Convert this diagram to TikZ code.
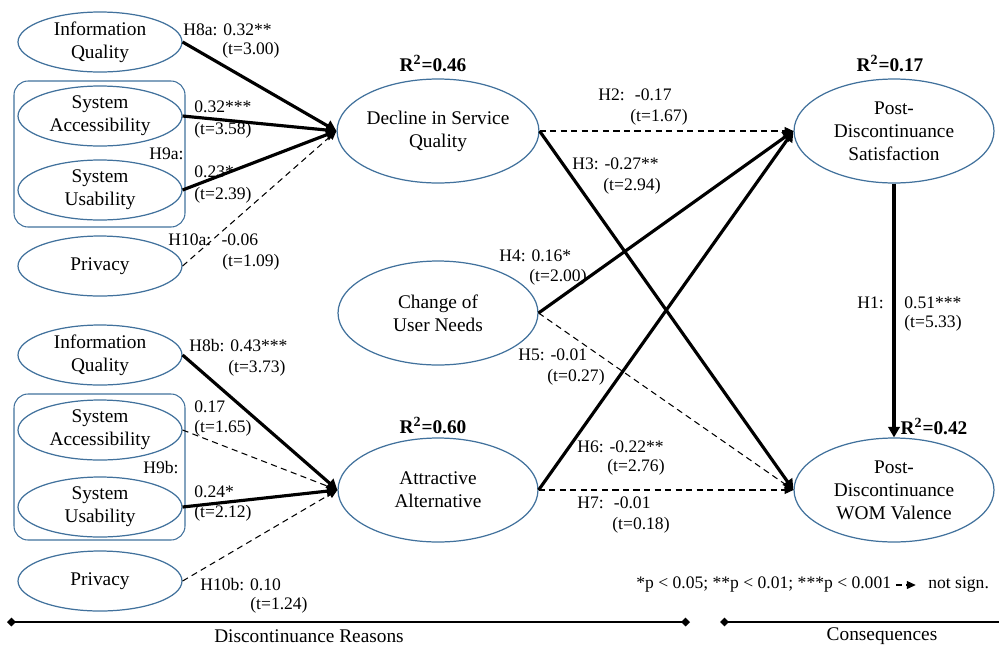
\documentclass[tikz,border=0pt]{standalone}
\usepackage{fontspec}
\setmainfont{Liberation Serif}
\usetikzlibrary{arrows.meta,shapes.geometric}

\definecolor{ellblue}{RGB}{65,113,156}
\tikzset{
	construct/.style={ellipse, draw=ellblue, line width=0.7pt, inner sep=0pt, minimum width=3.28cm, minimum height=1.2cm, align=center, font=\fontsize{11}{13}\selectfont},
	bigconstruct/.style={construct, minimum width=4cm, minimum height=2.08cm},
	sig/.style={line width=1.8pt, -{Triangle[length=6pt,width=6.5pt]}},
	nsig/.style={line width=0.6pt, dash pattern=on 3.5pt off 2.5pt, -{Triangle[length=5pt,width=4.5pt]}},
	lbl/.style={anchor=west, inner sep=0pt, font=\fontsize{10}{12}\selectfont},
	rsq/.style={inner sep=0pt, font=\fontsize{11}{13}\selectfont\bfseries},
	group/.style={draw=ellblue, line width=0.6pt, rounded corners=8pt}
}

\begin{document}
\begin{tikzpicture}[x=0.02cm, y=-0.02cm]
	\useasboundingbox (0,0) rectangle (999,646);
	
	%groups
	\draw[group] (14,81) rectangle (185,227);
	\draw[group] (14,394) rectangle (185,540);
	
	%reasons
	\node[construct] (iqa) at (100,42) {Information\\Quality};
	\node[construct] (saa) at (100,116) {System\\Accessibility};
	\node[construct] (sua) at (100,190) {System\\Usability};
	\node[construct] (pra) at (100,266) {Privacy};
	\node[construct] (iqb) at (100,355) {Information\\Quality};
	\node[construct] (sab) at (100,430) {System\\Accessibility};
	\node[construct] (sub) at (100,507) {System\\Usability};
	\node[construct] (prb) at (100,581) {Privacy};
	
	%constructs
	\node[bigconstruct] (dsq) at (438,131) {Decline in Service\\Quality};
	\node[bigconstruct] (cun) at (438,313) {Change of\\User Needs};
	\node[bigconstruct] (aal) at (438,490) {Attractive\\Alternative};
	\node[bigconstruct] (pds) at (894,131) {Post-\\Discontinuance\\Satisfaction};
	\node[bigconstruct] (wom) at (894,490) {Post-\\Discontinuance\\WOM Valence};
	
	%R squared
	\node[rsq] (r46) at (433,63) {R\textsuperscript{\footnotesize 2}=0.46};
	\node[rsq] (r60) at (433,425) {R\textsuperscript{\footnotesize 2}=0.60};
	\node[rsq] (r17) at (890,63) {R\textsuperscript{\footnotesize 2}=0.17};
	\node[rsq] (r42) at (934,426) {R\textsuperscript{\footnotesize 2}=0.42};
	
	%paths
	\draw[sig] (iqa.east) -- (dsq.west);
	\draw[sig] (saa.east) -- (dsq.west);
	\draw[sig] (sua.east) -- (dsq.west);
	\draw[nsig] (pra.east) -- (dsq.west);
	\draw[sig] (iqb.east) -- (aal.west);
	\draw[nsig] (sab.east) -- (aal.west);
	\draw[sig] (sub.east) -- (aal.west);
	\draw[nsig] (prb.east) -- (aal.west);
	\draw[nsig] (dsq.east) -- (pds.west);
	\draw[sig] (dsq.east) -- (wom.west);
	\draw[sig] (cun.east) -- (pds.west);
	\draw[nsig] (cun.east) -- (wom.west);
	\draw[sig] (aal.east) -- (pds.west);
	\draw[nsig] (aal.east) -- (wom.west);
	\draw[sig] (pds.south) -- (wom.north);
	
	%coefficients
	\node[lbl] (h8a) at (183,30) {H8a: 0.32**};
	\node[lbl] (t8a) at (222,50) {(t=3.00)};
	\node[lbl] (h9aa) at (194,107) {0.32***};
	\node[lbl] (t9aa) at (194,130) {(t=3.58)};
	\node[lbl] (h9a) at (149,154) {H9a:};
	\node[lbl] (h9au) at (194,172) {0.23*};
	\node[lbl] (t9au) at (194,195) {(t=2.39)};
	\node[lbl] (h10a) at (168,240) {H10a: \ -0.06};
	\node[lbl] (t10a) at (222,262) {(t=1.09)};
	\node[lbl] (h8b) at (189,346) {H8b: 0.43***};
	\node[lbl] (t8b) at (228,368) {(t=3.73)};
	\node[lbl] (h9ba) at (194,407) {0.17};
	\node[lbl] (t9ba) at (194,428) {(t=1.65)};
	\node[lbl] (h9b) at (143,468) {H9b:};
	\node[lbl] (h9bu) at (194,492) {0.24*};
	\node[lbl] (t9bu) at (194,513) {(t=2.12)};
	\node[lbl] (h10b) at (200,585) {H10b: 0.10};
	\node[lbl] (t10b) at (250,605) {(t=1.24)};
	\node[lbl] (h2) at (598,95) {H2: \ -0.17};
	\node[lbl] (t2) at (630,117) {(t=1.67)};
	\node[lbl] (h3) at (572,164) {H3: -0.27**};
	\node[lbl] (t3) at (603,186) {(t=2.94)};
	\node[lbl] (h4) at (499,256) {H4: 0.16*};
	\node[lbl] (t4) at (529,277) {(t=2.00)};
	\node[lbl] (h5) at (518,355) {H5: -0.01};
	\node[lbl] (t5) at (547,377) {(t=0.27)};
	\node[lbl] (h6) at (577,447) {H6: -0.22**};
	\node[lbl] (t6) at (607,467) {(t=2.76)};
	\node[lbl] (h7) at (577,503) {H7: \ -0.01};
	\node[lbl] (t7) at (612,525) {(t=0.18)};
	\node[lbl] (h1) at (857,303) {H1:};
	\node[lbl] (h1v) at (904,303) {0.51***};
	\node[lbl] (t1) at (904,323) {(t=5.33)};
	
	%legend
	\node[lbl] (legend) at (636,585) {*p < 0.05; **p < 0.01; ***p < 0.001};
	\node[lbl] (notsig) at (928,585) {not sign.};
	\draw[nsig] ([xshift=2.5pt]legend.east) -- ([xshift=-7pt]notsig.west);
	
	%sections
	\coordinate (rs) at (7,622); \coordinate (re) at (690,622);
	\coordinate (cs) at (720,622); \coordinate (ce) at (999,622);
	\draw[line width=1.1pt, {Diamond[length=5pt,width=5pt]}-{Diamond[length=5pt,width=5pt]}] (rs) -- (re);
	\draw[line width=1.1pt, {Diamond[length=5pt,width=5pt]}-] (cs) -- (ce);
	\node[inner sep=0pt, font=\fontsize{11}{13}\selectfont] (reasons) at (309,636) {Discontinuance Reasons};
	\node[inner sep=0pt, font=\fontsize{11}{13}\selectfont] (conseq) at (882,636) {Consequences};
\end{tikzpicture}
\end{document}
